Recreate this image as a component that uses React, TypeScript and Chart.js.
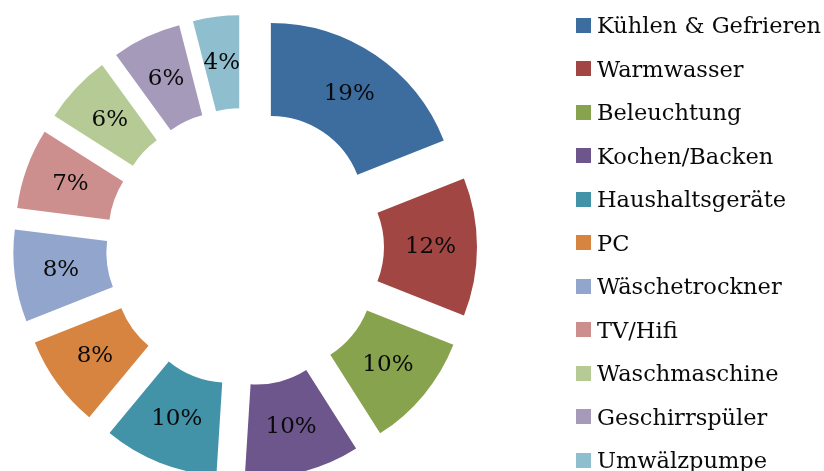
import React, { useEffect, useRef } from 'react';
import { Chart, DoughnutController, ArcElement } from 'chart.js';

Chart.register(DoughnutController, ArcElement);

const categories = [
  'Kühlen & Gefrieren',
  'Warmwasser',
  'Beleuchtung',
  'Kochen/Backen',
  'Haushaltsgeräte',
  'PC',
  'Wäschetrockner',
  'TV/Hifi',
  'Waschmaschine',
  'Geschirrspüler',
  'Umwälzpumpe',
];
const values = [19, 12, 10, 10, 10, 8, 8, 7, 6, 6, 4];
const colors = [
  '#3D6D9E',
  '#A24643',
  '#87A34D',
  '#6C568C',
  '#4293A8',
  '#D6843F',
  '#92A6CD',
  '#CD8F8E',
  '#B5CA95',
  '#A69ABA',
  '#8FBECE',
];

const EXPLODE = 46;
const FONT = "'DejaVu Serif', serif";

const explodePlugin = {
  id: 'explode',
  beforeDatasetDraw(chart: any, args: any) {
    const ctx = chart.ctx;
    args.meta.data.forEach((arc: any) => {
      const mid = (arc.startAngle + arc.endAngle) / 2;
      ctx.save();
      ctx.translate(Math.cos(mid) * EXPLODE, Math.sin(mid) * EXPLODE);
      arc.draw(ctx);
      ctx.restore();
    });
    return false;
  },
  afterDatasetsDraw(chart: any) {
    const ctx = chart.ctx;
    const meta = chart.getDatasetMeta(0);
    ctx.save();
    ctx.font = `23px ${FONT}`;
    ctx.fillStyle = '#0a0a0a';
    ctx.textAlign = 'center';
    ctx.textBaseline = 'middle';
    meta.data.forEach((arc: any, i: number) => {
      const mid = (arc.startAngle + arc.endAngle) / 2;
      const r = (arc.innerRadius + arc.outerRadius) / 2 + EXPLODE;
      ctx.fillText(`${values[i]}%`, arc.x + Math.cos(mid) * r, arc.y + Math.sin(mid) * r);
    });
    ctx.restore();
  },
};

export default function App() {
  const ref = useRef<HTMLCanvasElement>(null);
  useEffect(() => {
    if (!ref.current) return;
    const chart = new Chart(ref.current, {
      type: 'doughnut',
      data: {
        labels: categories,
        datasets: [
          {
            data: values,
            backgroundColor: colors,
            borderWidth: 0,
          },
        ],
      },
      options: {
        responsive: false,
        animation: false,
        radius: 186,
        cutout: '50%',
        layout: { padding: { left: 0, right: 334, top: 23, bottom: 0 } },
        plugins: { legend: { display: false }, tooltip: { enabled: false } },
      } as any,
      plugins: [explodePlugin as any],
    });
    return () => chart.destroy();
  }, []);

  return (
    <div style={{ position: 'fixed', left: 0, top: 0, width: 824, height: 471, background: '#fff', overflow: 'hidden' }}>
      <canvas ref={ref} width={824} height={471} style={{ position: 'absolute', left: 0, top: 0 }} />
      <div style={{ position: 'absolute', left: 576, top: 3.25 }}>
        {categories.map((c, i) => (
          <div key={c} style={{ display: 'flex', alignItems: 'center', height: 43.5 }}>
            <div style={{ width: 15, height: 15, background: colors[i], marginRight: 6, flex: 'none' }} />
            <span style={{ font: `22.5px ${FONT}`, lineHeight: '22px', color: '#0a0a0a', whiteSpace: 'nowrap' }}>{c}</span>
          </div>
        ))}
      </div>
    </div>
  );
}
